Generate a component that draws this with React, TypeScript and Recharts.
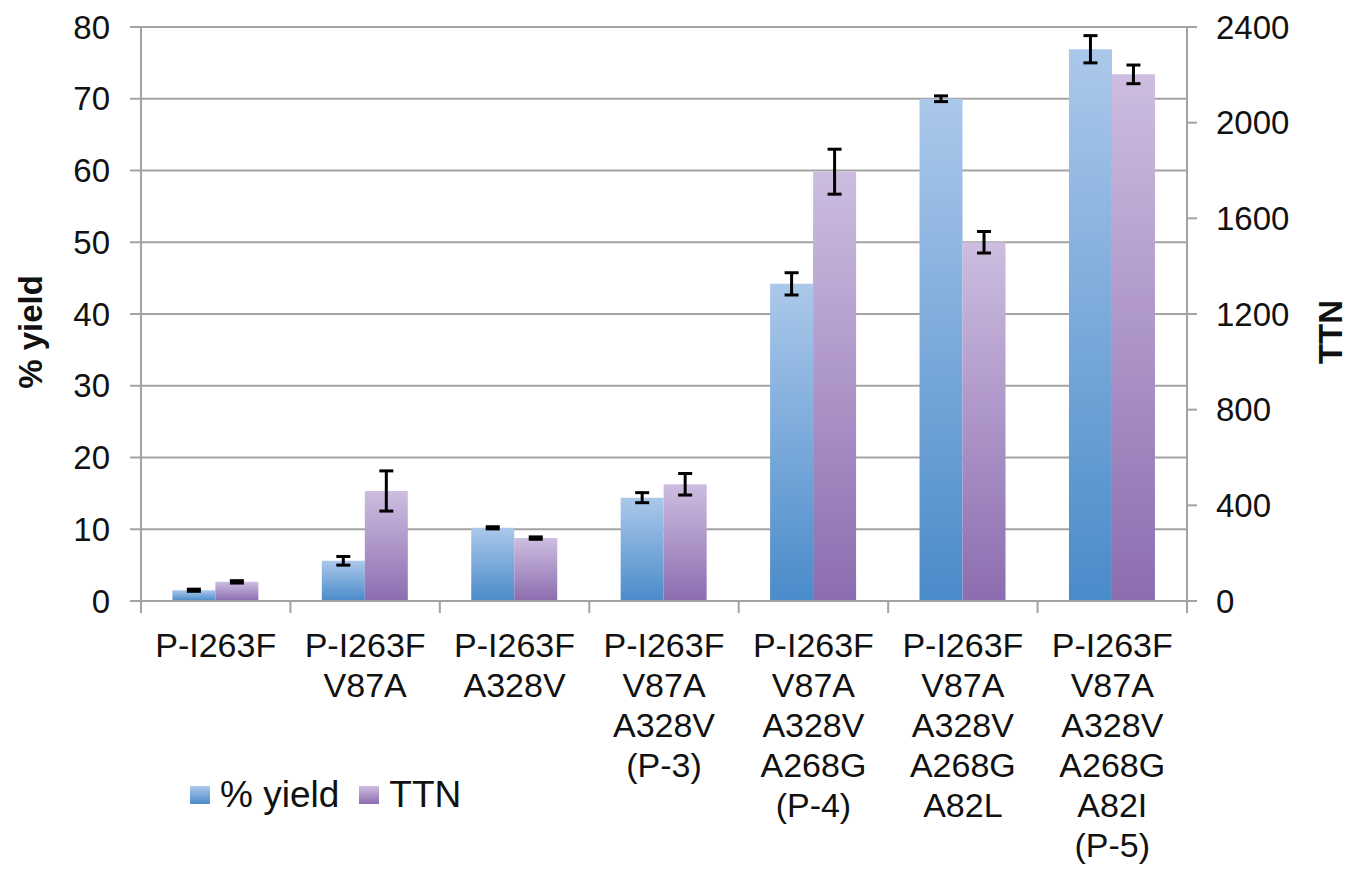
import React from 'react';
import { BarChart, Bar, XAxis, YAxis, CartesianGrid, ErrorBar } from 'recharts';

// Mutants (x labels, one line per mutation)
const CATEGORIES = [
  'P-I263F',
  'P-I263F\nV87A',
  'P-I263F\nA328V',
  'P-I263F\nV87A\nA328V\n(P-3)',
  'P-I263F\nV87A\nA328V\nA268G\n(P-4)',
  'P-I263F\nV87A\nA328V\nA268G\nA82L',
  'P-I263F\nV87A\nA328V\nA268G\nA82I\n(P-5)',
];

const YIELD = [1.5, 5.6, 10.2, 14.4, 44.2, 70.0, 76.9];
const YIELD_ERR = [0.15, 0.6, 0.15, 0.7, 1.55, 0.4, 1.9];
const TTN = [80, 460, 263, 488, 1795, 1500, 2202];
const TTN_ERR = [5, 84, 5, 45, 94, 45, 39];

const LEFT_TICKS = [0, 10, 20, 30, 40, 50, 60, 70, 80];
const RIGHT_TICKS = [0, 400, 800, 1200, 1600, 2000, 2400];

const SERIES = [
  { key: 'yield', name: '% yield', top: '#abc8ea', bottom: '#4a8bca' },
  { key: 'ttn', name: 'TTN', top: '#cdbde0', bottom: '#8c6db0' },
];

const FONT = '"Liberation Sans", Arial, sans-serif';
const AXIS_GRAY = '#a3a3a3';

const data = CATEGORIES.map((name, i) => ({
  name,
  yield: YIELD[i],
  yieldErr: YIELD_ERR[i],
  ttn: TTN[i],
  ttnErr: TTN_ERR[i],
}));

const CategoryTick = (props: any) => {
  const { x, y, payload, index, width, visibleTicksCount } = props;
  const half = payload && payload.offset ? payload.offset : width / visibleTicksCount / 2;
  const lines = String(payload.value).split('\n');
  const last = index === visibleTicksCount - 1;
  return (
    <g>
      <line x1={x - half} x2={x - half} y1={y} y2={y + 12} stroke={AXIS_GRAY} strokeWidth={2} />
      {last && <line x1={x + half} x2={x + half} y1={y} y2={y + 12} stroke={AXIS_GRAY} strokeWidth={2} />}
      {lines.map((l, i) => (
        <text key={i} x={x} y={y + 56 + i * 40} textAnchor="middle" fontSize={34} fontFamily={FONT} fill="#111">
          {l}
        </text>
      ))}
    </g>
  );
};

const AxisTitle = (props: any) => {
  const { viewBox, value, dx, dy } = props;
  const cx = viewBox.x + dx;
  const cy = viewBox.y + viewBox.height / 2 + dy;
  return (
    <text
      x={cx}
      y={cy}
      transform={`rotate(-90, ${cx}, ${cy})`}
      textAnchor="middle"
      dominantBaseline="central"
      fontSize={33}
      fontWeight="bold"
      fontFamily={FONT}
      fill="#111"
    >
      {value}
    </text>
  );
};

const App: React.FC = () => {
  const tickStyle = { fontSize: 33, fontFamily: FONT, fill: '#111' };
  return (
    <div style={{ position: 'absolute', left: 0, top: 0, width: 1349, height: 871, background: '#fff' }}>
      <BarChart
        width={1349}
        height={871}
        data={data}
        margin={{ top: 27, right: 0, bottom: 0, left: 0 }}
        barCategoryGap="21%"
        barGap={0}
      >
        <defs>
          {SERIES.map((s) => (
            <linearGradient key={s.key} id={`grad-${s.key}`} x1="0" y1="0" x2="0" y2="1">
              <stop offset="0%" stopColor={s.top} />
              <stop offset="100%" stopColor={s.bottom} />
            </linearGradient>
          ))}
        </defs>
        <CartesianGrid yAxisId="left" vertical={false} stroke={AXIS_GRAY} strokeWidth={2} />
        <XAxis
          dataKey="name"
          height={270}
          interval={0}
          tickLine={false}
          tickSize={0}
          tickMargin={0}
          axisLine={{ stroke: AXIS_GRAY, strokeWidth: 2 }}
          tick={<CategoryTick />}
        />
        <YAxis
          yAxisId="left"
          width={141}
          domain={[0, 80]}
          ticks={LEFT_TICKS}
          interval={0}
          tickSize={11}
          tickMargin={20}
          axisLine={{ stroke: AXIS_GRAY, strokeWidth: 2 }}
          tickLine={{ stroke: AXIS_GRAY, strokeWidth: 2 }}
          tick={tickStyle}
          label={<AxisTitle value="% yield" dx={30} dy={18} />}
        />
        <YAxis
          yAxisId="right"
          orientation="right"
          width={162}
          domain={[0, 2400]}
          ticks={RIGHT_TICKS}
          interval={0}
          tickSize={10}
          tickMargin={19}
          axisLine={{ stroke: AXIS_GRAY, strokeWidth: 2 }}
          tickLine={{ stroke: AXIS_GRAY, strokeWidth: 2 }}
          tick={tickStyle}
          label={<AxisTitle value="TTN" dx={143} dy={18} />}
        />
        <Bar yAxisId="left" dataKey="yield" name="% yield" fill="url(#grad-yield)" isAnimationActive={false}>
          <ErrorBar dataKey="yieldErr" width={7} strokeWidth={3} stroke="#000" direction="y" isAnimationActive={false} />
        </Bar>
        <Bar yAxisId="right" dataKey="ttn" name="TTN" fill="url(#grad-ttn)" isAnimationActive={false}>
          <ErrorBar dataKey="ttnErr" width={7} strokeWidth={3} stroke="#000" direction="y" isAnimationActive={false} />
        </Bar>
      </BarChart>
      <div
        style={{
          position: 'absolute',
          left: 190,
          top: 774,
          display: 'flex',
          alignItems: 'center',
          fontFamily: FONT,
          fontSize: 37,
          color: '#111',
          lineHeight: '42px',
        }}
      >
        {SERIES.map((s, i) => (
          <div key={s.key} style={{ display: 'flex', alignItems: 'center', marginLeft: i === 0 ? 0 : 20 }}>
            <span
              style={{
                display: 'inline-block',
                width: 20,
                height: 18,
                marginRight: 10,
                background: `linear-gradient(${s.top}, ${s.bottom})`,
              }}
            />
            <span>{s.name}</span>
          </div>
        ))}
      </div>
    </div>
  );
};

export default App;
